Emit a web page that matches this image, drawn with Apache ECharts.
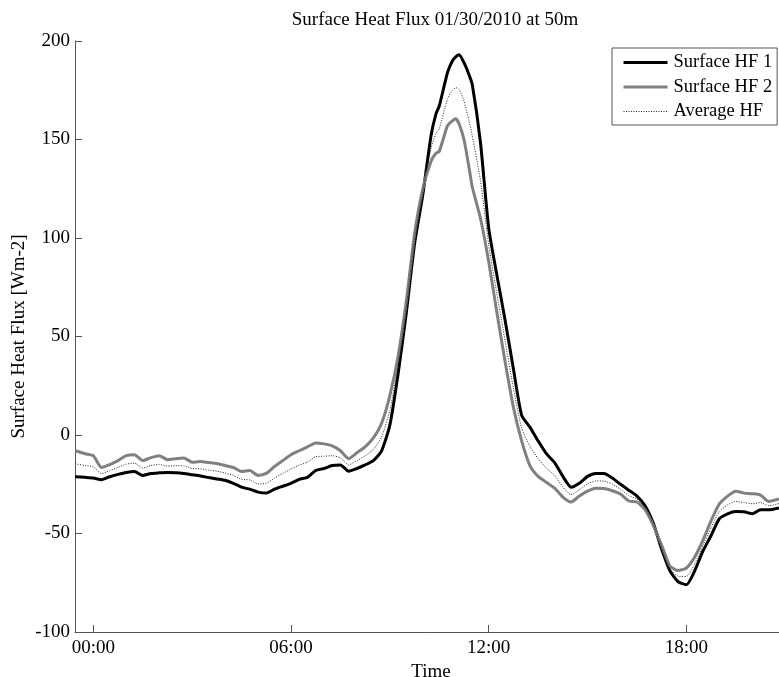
<!DOCTYPE html>
<html>
<head>
<meta charset="utf-8">
<script src="https://cdn.jsdelivr.net/npm/echarts@6/dist/echarts.min.js"></script>
<style>html,body{margin:0;padding:0;background:#fff;}#chart{width:779px;height:677px;}</style>
</head>
<body>
<div id="chart"></div>
<script>
// Time in hours since 00:00
const times = [-0.55,-0.25,0,0.25,0.5,0.75,1,1.25,1.5,1.75,2,2.25,2.5,2.75,3,3.25,3.5,3.75,4,4.25,4.5,4.75,5,5.25,5.5,5.75,6,6.25,6.5,6.75,7,7.25,7.5,7.75,8,8.25,8.5,8.75,9,9.25,9.5,9.75,10,10.25,10.4,10.5,10.75,10.9,11,11.1,11.25,11.4,11.5,11.75,12,12.25,12.5,12.75,13,13.25,13.5,13.75,14,14.25,14.5,14.75,15,15.25,15.5,15.75,16,16.25,16.5,16.75,17,17.25,17.5,17.75,18,18.25,18.5,18.75,19,19.25,19.5,19.75,20,20.25,20.5,20.81];
const hf1 = [-21.2,-21.5,-21.8,-22.7,-21.2,-20,-19,-18.5,-20.5,-19.5,-19.2,-19,-19.2,-19.6,-20.2,-20.8,-21.6,-22.3,-23,-24.5,-26.5,-27.5,-29,-29.5,-27.5,-26,-24.5,-22.5,-21.5,-18,-17,-15.5,-15.2,-18.4,-17,-15.2,-13,-8,5,31,62,97,122,152,163,167,184,190,192,193,189,183,178,148.5,105,81,58,33.5,10,4,-3,-9.5,-14,-21,-26.5,-24.5,-21,-19.5,-19.5,-21.8,-25,-28,-31,-36,-45,-58,-69,-74.5,-76,-69,-59,-51,-42.5,-40,-38.8,-39,-40,-38,-38,-37];
const hf2 = [-8,-9.5,-10.5,-16.5,-15,-13,-10.5,-10,-13,-11.5,-10.5,-12.5,-12,-11.7,-13.8,-13.5,-14,-14.5,-15.5,-16.5,-18.5,-18,-20.5,-19.5,-16,-13,-10,-8,-6,-4,-4.5,-5.5,-8,-12,-9,-6,-1.5,6,20,40,68,102,125,139,143,144,157,159.5,160.5,158,150,136,126,110,88,62,37,14,-3,-15.5,-21,-24,-27,-31.5,-34,-31,-28.5,-27,-27.2,-28.3,-30,-33.5,-34,-38,-46,-56,-66.5,-68.8,-67.5,-62,-53.5,-43.5,-35,-31,-28.5,-29.5,-29.8,-30.5,-33.8,-32.5];
const avgHf = [-14.6,-15.5,-16.2,-19.6,-18.1,-16.5,-14.8,-14.3,-16.8,-15.5,-14.9,-15.8,-15.6,-15.7,-17,-17.2,-17.8,-18.4,-19.3,-20.5,-22.5,-22.8,-24.8,-24.5,-21.8,-19.5,-17.3,-15.3,-13.8,-11,-10.8,-10.5,-11.6,-15.2,-13,-10.6,-7.3,-1,12.5,35.5,65,99.5,123.5,145.5,153,155.5,170.5,175,176.3,175.5,169.5,159.5,152,129.3,96.5,71.5,47.5,23.8,3.5,-5.8,-12,-16.8,-20.5,-26.3,-30.3,-27.8,-24.8,-23.3,-23.4,-25,-27.5,-30.8,-32.5,-37,-45.5,-57,-67.8,-71.7,-71.8,-65.5,-56.2,-47.2,-38.8,-35.5,-33.7,-34.3,-34.9,-34.3,-35.9,-34.8];
const xTickHours = [0, 6, 12, 18];
const seriesNames = ['Surface HF 1', 'Surface HF 2', 'Average HF'];

const FONT = 'Liberation Serif';
const AXIS_COLOR = '#555';
const pair = (vals) => times.map((t, i) => [t, vals[i]]);

const chart = echarts.init(document.getElementById('chart'), null, {renderer: 'canvas'});
chart.setOption({
  animation: false,
  backgroundColor: '#fff',
  textStyle: {fontFamily: FONT, color: '#000'},
  title: {
    text: 'Surface Heat Flux 01/30/2010 at 50m',
    left: 430, top: 6, textAlign: 'center',
    textStyle: {fontFamily: FONT, fontSize: 19, fontWeight: 'normal', color: '#000'}
  },
  legend: {
    orient: 'vertical',
    left: 612, top: 48,
    padding: [5, 5, 4, 10],
    itemGap: 5.5,
    itemWidth: 44, itemHeight: 14,
    backgroundColor: '#fff',
    borderColor: '#555', borderWidth: 1, borderRadius: 0,
    itemStyle: {color: 'rgba(0,0,0,0)', borderWidth: 0, opacity: 0},
    textStyle: {fontFamily: FONT, fontSize: 18.5, color: '#000', lineHeight: 18, padding: [0, 0, 0, 1]},
    data: [
      {name: seriesNames[0], lineStyle: {width: 3}},
      {name: seriesNames[1], lineStyle: {width: 3}},
      {name: seriesNames[2], lineStyle: {width: 1}}
    ]
  },
  grid: {left: 75, right: 0, top: 41, bottom: 45, containLabel: false, outerBoundsMode: 'none'},
  xAxis: {
    type: 'value', min: -0.555, max: 20.81,
    name: 'Time', nameLocation: 'middle', nameGap: 31, nameMoveOverlap: false,
    nameTextStyle: {fontFamily: FONT, fontSize: 19, color: '#000', padding: [0, 0, 0, 8]},
    axisLine: {show: true, onZero: false, lineStyle: {color: AXIS_COLOR, width: 1}},
    axisTick: {show: true, inside: true, length: 7, customValues: xTickHours, lineStyle: {color: AXIS_COLOR}},
    axisLabel: {
      customValues: xTickHours, margin: 7,
      fontFamily: FONT, fontSize: 19, color: '#000',
      formatter: v => String(v).padStart(2, '0') + ':00'
    },
    splitLine: {show: false}
  },
  yAxis: {
    type: 'value', min: -100, max: 200, interval: 50,
    name: 'Surface Heat Flux [Wm-2]', nameLocation: 'middle', nameGap: 46, nameRotate: 90, nameMoveOverlap: false,
    nameTextStyle: {fontFamily: FONT, fontSize: 19, color: '#000'},
    axisLine: {show: true, onZero: false, lineStyle: {color: AXIS_COLOR, width: 1}},
    axisTick: {show: true, inside: true, length: 7, lineStyle: {color: AXIS_COLOR}},
    axisLabel: {margin: 5, fontFamily: FONT, fontSize: 19, color: '#000'},
    splitLine: {show: false}
  },
  series: [
    {name: seriesNames[0], type: 'line', data: pair(hf1), showSymbol: false, symbol: 'none', smooth: 0.2,
     lineStyle: {color: '#000', width: 3}, itemStyle: {color: '#000'}},
    {name: seriesNames[1], type: 'line', data: pair(hf2), showSymbol: false, symbol: 'none', smooth: 0.2,
     lineStyle: {color: '#808080', width: 3}, itemStyle: {color: '#808080'}},
    {name: seriesNames[2], type: 'line', data: pair(avgHf), showSymbol: false, symbol: 'none', smooth: 0.2,
     lineStyle: {color: '#222', width: 1, type: [1, 1.5]}, itemStyle: {color: '#222'}}
  ]
});
</script>
</body>
</html>
